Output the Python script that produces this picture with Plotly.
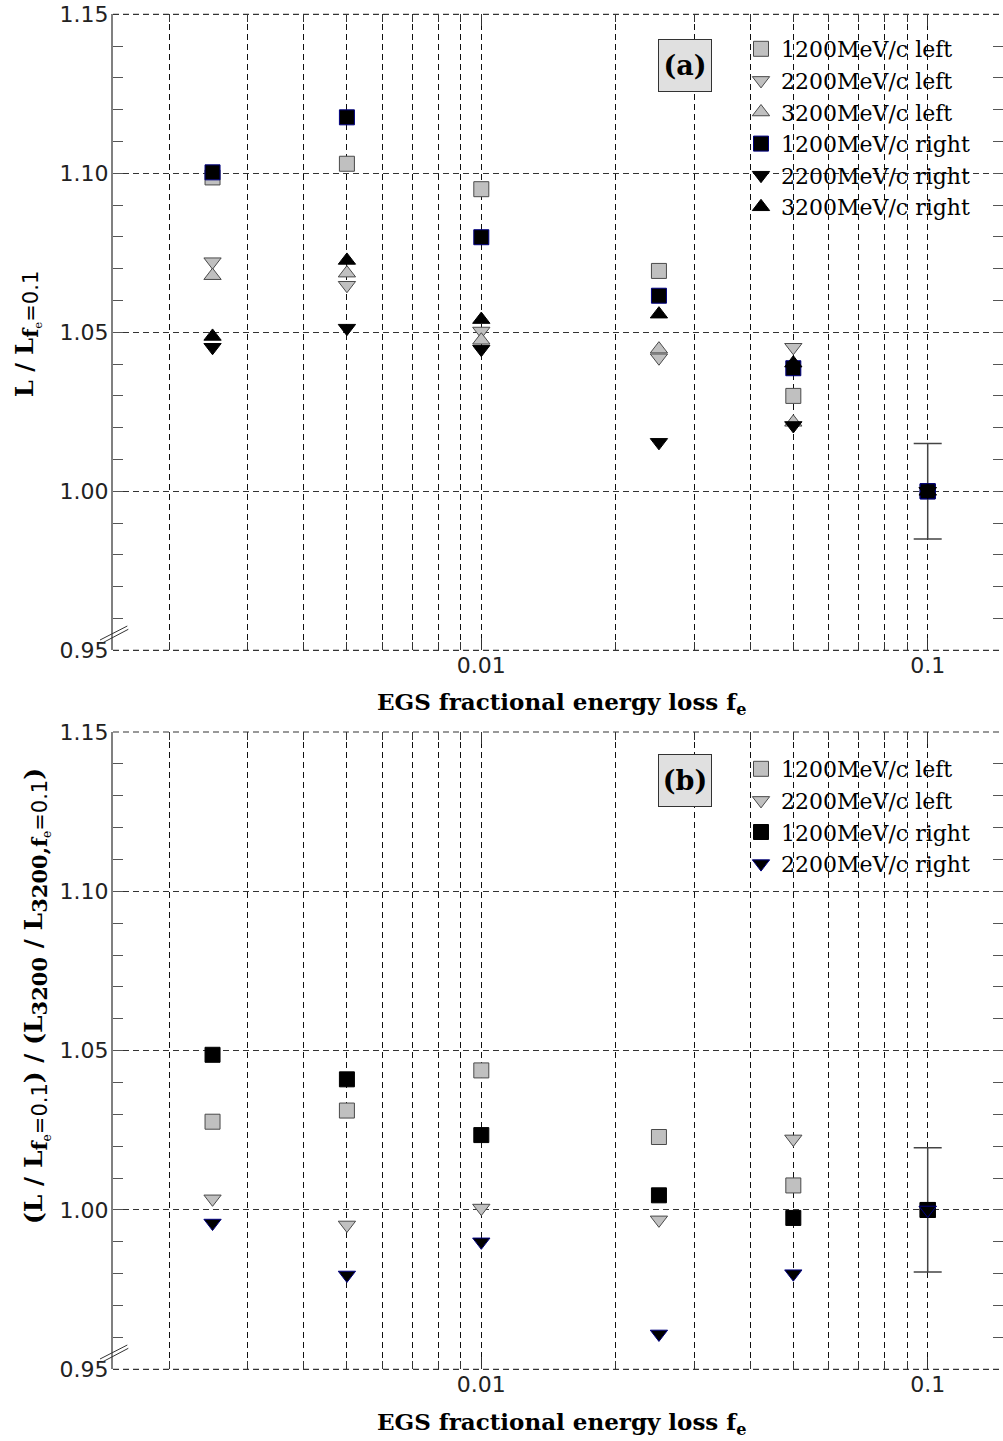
import plotly.graph_objects as go

# ---------------- data ----------------
fe = [0.0025, 0.005, 0.01, 0.025, 0.05, 0.1]

# panel (a): L / L(fe=0.1)
a_1200_left = [1.0987, 1.1030, 1.0950, 1.0693, 1.0300, 1.0]
a_2200_left = [1.0722, 1.0648, 1.0504, 1.0420, 1.0453, 1.0]
a_3200_left = [1.0678, 1.0686, 1.0475, 1.0447, 1.0217, 1.0]
a_1200_right = [1.1003, 1.1176, 1.0799, 1.0615, 1.0387, 1.0]
a_2200_right = [1.0453, 1.0513, 1.0447, 1.0154, 1.0207, 1.0]
a_3200_right = [1.0487, 1.0726, 1.0540, 1.0557, 1.0403, 1.0]
a_ref_err = 0.015

# panel (b): (L / L(fe=0.1)) / (L3200 / L3200(fe=0.1))
b_1200_left = [1.0277, 1.0312, 1.0438, 1.0229, 1.0077, 1.0]
b_2200_left = [1.0035, 0.9953, 1.0006, 0.9969, 1.0223, 1.0]
b_1200_right = [1.0487, 1.0410, 1.0235, 1.0046, 0.9975, 1.0]
b_2200_right = [0.9959, 0.9796, 0.9900, 0.9611, 0.9800, 1.0]
b_ref_err = 0.0195

x_tickvals = [0.01, 0.1]
x_ticktext = ["0.01", "0.1"]
x_minor = [0.002, 0.003, 0.004, 0.005, 0.006, 0.007, 0.008, 0.009,
           0.02, 0.03, 0.04, 0.05, 0.06, 0.07, 0.08, 0.09]

# ---------------- style ----------------
W, H = 1003, 1441
GRAY = "#c0c0c0"
GRAY_LINE = "#4a4a4a"
NAVY = "#000080"
SERIF = "DejaVu Serif"
SANS = "DejaVu Sans"

L_PX, R_PX = 113, 1003
X01_PX, DEC_PX = 481.3, 446.4

fig = go.Figure()


def add(x, y, name, symbol, color, lcolor, xa, ya, legend):
    fig.add_trace(go.Scatter(
        x=x, y=y, mode="markers", name=name, xaxis=xa, yaxis=ya, legend=legend,
        marker=dict(symbol=symbol, size=15, color=color,
                    line=dict(color=lcolor, width=1)),
        hoverinfo="skip"))


def add_ref(x, y, err, lcolor, xa, ya, legend):
    fig.add_trace(go.Scatter(
        x=[x], y=[y], mode="markers", showlegend=False, xaxis=xa, yaxis=ya,
        legend=legend, hoverinfo="skip",
        marker=dict(symbol="square", size=15, color="black",
                    line=dict(color=lcolor, width=1)),
        error_y=dict(type="data", array=[err], visible=True, color="#444",
                     thickness=1.5, width=14)))


# panel (a)
add(fe, a_1200_left, "1200MeV/c left", "square", GRAY, GRAY_LINE, "x", "y", "legend")
add(fe, a_2200_left, "2200MeV/c left", "triangle-down", GRAY, GRAY_LINE, "x", "y", "legend")
add(fe, a_3200_left, "3200MeV/c left", "triangle-up", GRAY, GRAY_LINE, "x", "y", "legend")
add(fe, a_1200_right, "1200MeV/c right", "square", "black", NAVY, "x", "y", "legend")
add_ref(fe[-1], a_1200_right[-1], a_ref_err, NAVY, "x", "y", "legend")
add(fe, a_2200_right, "2200MeV/c right", "triangle-down", "black", "black", "x", "y", "legend")
add(fe, a_3200_right, "3200MeV/c right", "triangle-up", "black", "black", "x", "y", "legend")

# panel (b)
add(fe, b_1200_left, "1200MeV/c left", "square", GRAY, GRAY_LINE, "x2", "y2", "legend2")
add(fe, b_2200_left, "2200MeV/c left", "triangle-down", GRAY, GRAY_LINE, "x2", "y2", "legend2")
add(fe, b_1200_right, "1200MeV/c right", "square", "black", "black", "x2", "y2", "legend2")
add_ref(fe[-1], b_1200_right[-1], b_ref_err, "black", "x2", "y2", "legend2")
add(fe, b_2200_right, "2200MeV/c right", "triangle-down", "black", NAVY, "x2", "y2", "legend2")

# ---------------- axes ----------------
x_lo = -2 - (X01_PX - L_PX) / DEC_PX
x_hi = x_lo + (R_PX - L_PX) / DEC_PX

GRID_DASH = "6px,4px"


def xaxis_cfg(anchor):
    return dict(
        type="log", range=[x_lo, x_hi], anchor=anchor, domain=[0, 1],
        tickmode="array", tickvals=x_tickvals, ticktext=x_ticktext,
        ticks="inside", ticklen=12, tickwidth=1, tickcolor="#333",
        mirror="ticks", showline=False, zeroline=False,
        showgrid=True, gridcolor="#111", gridwidth=1, griddash=GRID_DASH,
        minor=dict(tickmode="array", tickvals=x_minor, ticks="inside", ticklen=8,
                   tickcolor="#333", tickwidth=1, showgrid=True,
                   gridcolor="#111", gridwidth=1, griddash=GRID_DASH),
        tickfont=dict(family=SANS, size=22, color="#222"),
        ticklabelstandoff=0,
    )


def yaxis_cfg(anchor, dom):
    return dict(
        range=[0.95, 1.15], anchor=anchor, domain=dom,
        tick0=0.95, dtick=0.05, tickformat=".2f",
        ticks="inside", ticklen=10, tickwidth=1, tickcolor="#555",
        showline=True, linecolor="#808080", linewidth=2, mirror="ticks",
        zeroline=False, showgrid=True, gridcolor="#333", gridwidth=1,
        griddash=GRID_DASH,
        minor=dict(dtick=0.01, tick0=0.95, ticks="inside", ticklen=10,
                   tickcolor="#555", tickwidth=1, showgrid=False),
        tickfont=dict(family=SANS, size=22, color="#222"),
        ticklabelstandoff=-2,
    )


def py(px):
    return 1 - px / H


def pxx(px):
    # paper x is relative to the plotting area (inside margins)
    return (px - L_PX) / (R_PX - L_PX)


dom_a = [py(650.3), py(14.3)]
dom_b = [py(1369.3), py(732.0)]

shapes = []
for yref in ["y domain", "y2 domain"]:
    xref = "x domain" if yref == "y domain" else "x2 domain"
    for yy in (0, 1):
        shapes.append(dict(type="line", xref=xref, yref=yref, x0=0, x1=1,
                           y0=yy, y1=yy, line=dict(color="#333", width=1.2, dash=GRID_DASH)))
# axis-break marks
for off in (0, 719.0):
    for (x0, y0, x1, y1) in [(100, 640, 127.3, 626), (102.3, 643, 128.3, 629.3)]:
        shapes.append(dict(type="line", xref="paper", yref="paper",
                           x0=pxx(x0), y0=py(y0 + off), x1=pxx(x1), y1=py(y1 + off),
                           line=dict(color="#333", width=1)))

SUBF = 'style="font-size:21px"'
SUBS = 'style="font-size:21px;font-family:\'DejaVu Sans\'"'
sub_e = "<sub>e</sub>"
fe_sub = ("<sub><span " + SUBF + "><b>f</b></span>" + sub_e +
          "<span " + SUBS + ">=0.1</span></sub>")
ylab_a = "<b>L / L</b>" + fe_sub
ylab_b = ("<b>(L / L</b>" + fe_sub +
          "<b>) / (L</b><sub><span " + SUBF + "><b>3200</b></span></sub>"
          "<b> / L</b><sub><span " + SUBF + "><b>3200,f</b></span>" + sub_e +
          "<span " + SUBS + ">=0.1</span></sub><b>)</b>")
xlab = "<b>EGS fractional energy loss f<sub>e</sub></b>"

box = dict(xref="paper", yref="paper", showarrow=False,
           font=dict(family=SERIF, size=27, color="black"),
           bgcolor="#e0e0e0", bordercolor="#333", borderwidth=1, borderpad=3,
           width=46, height=45, xanchor="center", yanchor="middle")

annotations = [
    dict(text="<b>(a)</b>", x=pxx(685), y=py(66), **box),
    dict(text="<b>(b)</b>", x=pxx(685), y=py(780), **box),
    dict(text=xlab, x=pxx(561), y=py(704), xref="paper", yref="paper",
         showarrow=False, font=dict(family=SERIF, size=23, color="black"),
         xanchor="center", yanchor="middle"),
    dict(text=xlab, x=pxx(561), y=py(1423), xref="paper", yref="paper",
         showarrow=False, font=dict(family=SERIF, size=23, color="black"),
         xanchor="center", yanchor="middle"),
    dict(text=ylab_a, x=pxx(27), y=py(334), xref="paper", yref="paper",
         showarrow=False, textangle=-90, font=dict(family=SERIF, size=24, color="black"),
         xanchor="center", yanchor="middle"),
    dict(text=ylab_b, x=pxx(36), y=py(996), xref="paper", yref="paper",
         showarrow=False, textangle=-90, font=dict(family=SERIF, size=25, color="black"),
         xanchor="center", yanchor="middle"),
]

legend_common = dict(
    bgcolor="rgba(0,0,0,0)", borderwidth=0, xanchor="left", yanchor="top",
    font=dict(family=SERIF, size=22, color="black"), traceorder="normal",
    itemclick=False, itemdoubleclick=False, tracegroupgap=0,
)

fig.update_layout(
    width=W, height=H, template="none",
    paper_bgcolor="white", plot_bgcolor="white",
    margin=dict(l=L_PX, r=W - R_PX, t=0, b=0, pad=0),
    showlegend=True, hovermode=False,
    xaxis=xaxis_cfg("y"), yaxis=yaxis_cfg("x", dom_a),
    xaxis2=xaxis_cfg("y2"), yaxis2=yaxis_cfg("x2", dom_b),
    legend=dict(x=pxx(741), y=py(28), **legend_common),
    legend2=dict(x=pxx(741), y=py(748), **legend_common),
    shapes=shapes, annotations=annotations,
)

fig.write_html(
    "out.html",
    config={"displayModeBar": False},
    post_script=("document.body.style.margin='0';document.body.style.padding='0';"
                 "document.documentElement.style.overflow='hidden';"
                 "document.body.style.overflow='hidden';"),
)
